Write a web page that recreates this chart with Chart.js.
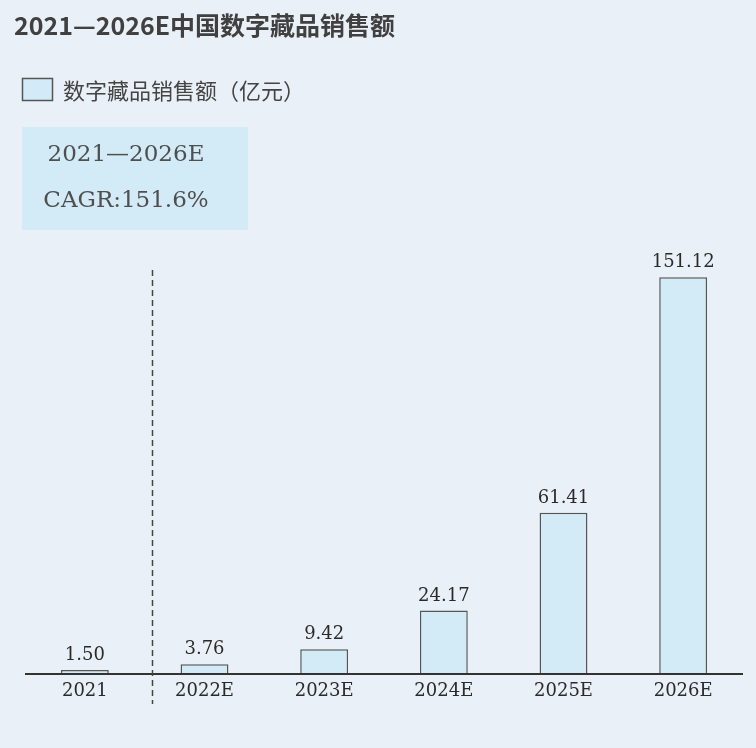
<!DOCTYPE html>
<html><head><meta charset="utf-8">
<script src="https://cdn.jsdelivr.net/npm/chart.js@4/dist/chart.umd.min.js"></script>
<style>html,body{margin:0;padding:0;background:#eaf0f7;}#wrap{width:756px;height:748px;position:relative;}</style>
</head><body><div id="wrap"><canvas id="c" width="756" height="748"></canvas></div>
<script>
const categories = ['2021','2022E','2023E','2024E','2025E','2026E'];
const salesValues = [1.50, 3.76, 9.42, 24.17, 61.41, 151.12];
const seriesName = '数字藏品销售额（亿元）';
const chartTitle = '2021—2026E中国数字藏品销售额';
const cagrLines = ['2021—2026E', 'CAGR:151.6%'];

const decor = {
  id: 'decor',
  beforeDraw(chart) {
    const ctx = chart.ctx;
    ctx.save();
    ctx.fillStyle = '#eaf0f7';
    ctx.fillRect(0, 0, chart.width, chart.height);
    // title
    ctx.fillStyle = '#404040';
    ctx.font = 'bold 25px "Noto Sans CJK SC", sans-serif';
    ctx.textBaseline = 'middle';
    ctx.textAlign = 'left';
    ctx.fillText(chartTitle, 14, 25);
    // legend
    ctx.fillStyle = '#d3ebf7';
    ctx.fillRect(22.5, 78.5, 30, 22);
    ctx.strokeStyle = '#555';
    ctx.lineWidth = 1.5;
    ctx.strokeRect(22.5, 78.5, 30, 22);
    ctx.fillStyle = '#444';
    ctx.font = '22px "Noto Sans CJK SC", sans-serif';
    ctx.fillText(seriesName, 63, 91);
    // CAGR box
    ctx.fillStyle = '#d3ebf7';
    ctx.fillRect(22, 127, 226, 103);
    ctx.fillStyle = '#4f4f4f';
    ctx.textAlign = 'center';
    ctx.font = '23px "DejaVu Serif", serif';
    ctx.fillText(cagrLines[0], 126, 155);
    ctx.fillText(cagrLines[1], 126, 201);
    ctx.restore();
  },
  afterDatasetsDraw(chart) {
    const ctx = chart.ctx;
    const xs = chart.scales.x, ys = chart.scales.y;
    ctx.save();
    // baseline
    ctx.strokeStyle = '#333';
    ctx.lineWidth = 2;
    ctx.beginPath();
    ctx.moveTo(chart.chartArea.left, ys.getPixelForValue(0));
    ctx.lineTo(chart.chartArea.right, ys.getPixelForValue(0));
    ctx.stroke();
    // dashed separator
    const x0 = xs.getPixelForValue(0), x1 = xs.getPixelForValue(1);
    const dx = Math.round(x0 + (x1 - x0) * 0.565) + 0.5;
    ctx.setLineDash([6, 4]);
    ctx.lineWidth = 1.5;
    ctx.strokeStyle = '#444';
    ctx.beginPath();
    ctx.moveTo(dx, 270);
    ctx.lineTo(dx, 704);
    ctx.stroke();
    ctx.setLineDash([]);
    // value labels
    ctx.fillStyle = '#2a2a2a';
    ctx.font = '18px "DejaVu Serif", serif';
    ctx.textAlign = 'center';
    ctx.textBaseline = 'alphabetic';
    const meta = chart.getDatasetMeta(0);
    meta.data.forEach((bar, i) => {
      ctx.fillText(salesValues[i].toFixed(2), bar.x, bar.y - 10);
    });
    ctx.restore();
  }
};

new Chart(document.getElementById('c'), {
  type: 'bar',
  data: {
    labels: categories,
    datasets: [{
      label: seriesName,
      data: salesValues,
      backgroundColor: '#d3ebf7',
      borderColor: '#555',
      borderWidth: 1.5,
      barPercentage: 0.4,
      categoryPercentage: 1.0
    }]
  },
  options: {
    responsive: false,
    animation: false,
    devicePixelRatio: 1,
    layout: { padding: { left: 25, right: 13, top: 254, bottom: 0 } },
    plugins: { legend: { display: false }, title: { display: false }, tooltip: { enabled: false } },
    scales: {
      x: {
        grid: { display: false, drawTicks: false },
        border: { display: false },
        ticks: { color: '#2a2a2a', padding: 7, font: { family: '"DejaVu Serif", serif', size: 18 } },
        afterFit(s) { s.height = 74; }
      },
      y: { display: false, min: 0, max: 160 }
    }
  },
  plugins: [decor]
});
</script></body></html>
